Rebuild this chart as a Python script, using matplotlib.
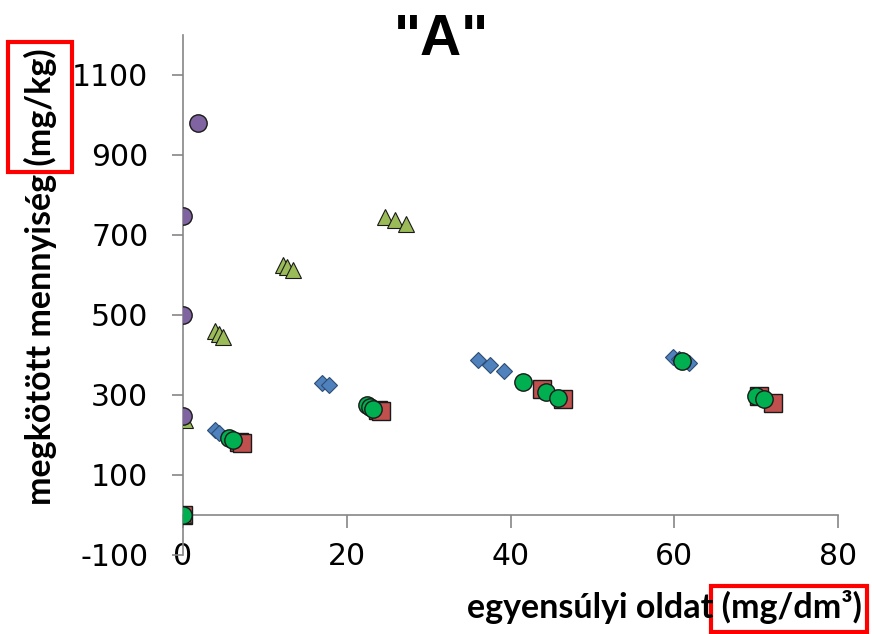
import matplotlib
matplotlib.use("Agg")
import matplotlib.pyplot as plt
from matplotlib.patches import Rectangle

plt.rcParams["axes.unicode_minus"] = False

# equilibrium concentration (mg/dm3) and bound amount (mg/kg) per series
diamond_x = [3.9, 4.4, 17.0, 17.8, 36.0, 37.5, 39.2, 59.8, 60.6, 61.8]
diamond_y = [211, 205, 329, 324, 386, 374, 359, 395, 389, 379]

square_x = [0.0, 6.8, 7.2, 23.8, 24.2, 43.8, 46.4, 70.3, 72.1]
square_y = [0, 182, 178, 261, 258, 313, 288, 296, 280]

triangle_x = [0.0, 0.3, 3.9, 4.4, 4.9, 12.2, 12.7, 13.4, 24.7, 25.9, 27.2]
triangle_y = [0, 237, 458, 452, 445, 625, 620, 611, 745, 737, 726]

purple_x = [0.0, 0.0, 0.0, 1.8]
purple_y = [246, 499, 746, 979]

green_x = [0.0, 5.6, 6.1, 22.5, 22.9, 23.2, 41.5, 44.3, 45.8, 61.0, 70.0, 71.0]
green_y = [0, 192, 187, 273, 268, 264, 332, 307, 292, 385, 296, 289]

x_ticks = [0, 20, 40, 60, 80]
y_ticks = [-100, 100, 300, 500, 700, 900, 1100]

fig = plt.figure(figsize=(8.72, 6.34), dpi=100)
ax = fig.add_axes([183 / 872, 1 - 554.5 / 634, 655 / 872, 520 / 634])

ax.plot(diamond_x, diamond_y, "D", ms=8, mfc="#4F81BD", mec="#2c4d75", mew=0.8, zorder=3)
ax.plot(square_x, square_y, "s", ms=13, mfc="#C0504D", mec="#1a1a1a", mew=1.0, zorder=4)
ax.plot(triangle_x, triangle_y, "^", ms=12, mfc="#9BBB59", mec="#1a1a1a", mew=0.8, zorder=5)
ax.plot(purple_x, purple_y, "o", ms=12.5, mfc="#8064A2", mec="#1a1a1a", mew=1.0, zorder=6)
ax.plot(green_x, green_y, "o", ms=12.5, mfc="#00B050", mec="#1a1a1a", mew=1.0, zorder=7)

ax.set_xlim(0, 80)
ax.set_ylim(-100, 1200)

axis_grey = "#868686"
for side in ["top", "right", "bottom"]:
    ax.spines[side].set_visible(False)
ax.spines["left"].set_color(axis_grey)
ax.spines["left"].set_linewidth(1.2)

ax.set_yticks(y_ticks)
ax.tick_params(axis="y", direction="out", length=8, width=1.2, color=axis_grey,
               labelsize=21.5, pad=17)

# x labels sit at the bottom, the axis line itself crosses at y = 0
ax.set_xticks(x_ticks)
ax.tick_params(axis="x", length=0, labelsize=21.5, pad=-9)

zero_axis = ax.secondary_xaxis(0, transform=ax.transData)
zero_axis.set_xticks(x_ticks)
zero_axis.tick_params(axis="x", direction="out", length=9, width=1.2,
                      color=axis_grey, labelbottom=False)
zero_axis.spines["bottom"].set_color(axis_grey)
zero_axis.spines["bottom"].set_linewidth(1.2)

for t in ax.get_xticklabels() + ax.get_yticklabels():
    t.set_clip_on(False)

fig.text(441 / 872, 1 - 40 / 634, '"A"', ha="center", va="center",
         fontsize=41, fontweight="bold", family="Liberation Sans")
fig.text(40 / 872, 1 - 277 / 634, "megkötött mennyiség (mg/kg)", rotation=90,
         ha="center", va="center", fontsize=24.5, fontweight="bold", family="Lato")
fig.text(664 / 872, 1 - 607 / 634, "egyensúlyi oldat (mg/dm³)",
         ha="center", va="center", fontsize=24.5, fontweight="bold", family="Lato")

# red frames around the units
for x0, y0, x1, y1 in [(8, 42, 72, 172), (711, 586, 867, 632)]:
    fig.patches.append(Rectangle((x0 / 872, 1 - y1 / 634), (x1 - x0) / 872, (y1 - y0) / 634,
                                 transform=fig.transFigure, fill=False,
                                 edgecolor="#ff0000", linewidth=3))

fig.savefig("out.png", dpi=100)
